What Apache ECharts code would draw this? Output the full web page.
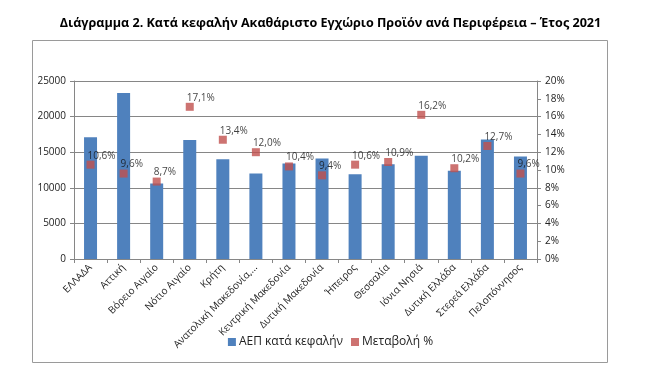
<!DOCTYPE html>
<html>
<head>
<meta charset="utf-8">
<script src="https://cdn.jsdelivr.net/npm/echarts@6/dist/echarts.min.js"></script>
<style>
html,body{margin:0;padding:0;background:#fff;}
#c{width:661px;height:392px;}
</style>
</head>
<body>
<div id="c"></div>
<script>
const categories = ['ΕΛΛΑΔΑ','Αττική','Βόρειο Αιγαίο','Νότιο Αιγαίο','Κρήτη','Ανατολική Μακεδονία,...','Κεντρική Μακεδονία','Δυτική Μακεδονία','Ήπειρος','Θεσσαλία','Ιόνια Νησιά','Δυτική Ελλάδα','Στερεά Ελλάδα','Πελοπόννησος'];
const gdpPerCapita = [17100, 23300, 10600, 16700, 14000, 12000, 13400, 14100, 11900, 13300, 14500, 12400, 16800, 14400];
const changePct = [10.6, 9.6, 8.7, 17.1, 13.4, 12.0, 10.4, 9.4, 10.6, 10.9, 16.2, 10.2, 12.7, 9.6];
const leftTicks = [0, 5000, 10000, 15000, 20000, 25000];
const rightTicks = [0, 2, 4, 6, 8, 10, 12, 14, 16, 18, 20];

const FONT = 'Open Sans';
const chart = echarts.init(document.getElementById('c'), null, {renderer: 'canvas'});
chart.setOption({
  animation: false,
  textStyle: {fontFamily: FONT},
  title: {
    text: 'Διάγραμμα 2. Κατά κεφαλήν Ακαθάριστο Εγχώριο Προϊόν ανά Περιφέρεια – Έτος 2021',
    left: 'center', top: 12,
    textStyle: {fontFamily: FONT, fontSize: 12.6, fontWeight: 'bold', color: '#000'}
  },
  graphic: [{
    type: 'rect', shape: {x: 32.5, y: 40.5, width: 575, height: 322},
    style: {fill: 'none', stroke: '#9a9a9a', lineWidth: 1}, silent: true, z: -1
  }],
  legend: {
    bottom: 39, left: 'center', itemWidth: 8, itemHeight: 8, itemGap: 8,
    icon: 'rect',
    textStyle: {fontFamily: FONT, fontSize: 12, color: '#222', padding: [0,0,0,-2]},
    data: ['ΑΕΠ κατά κεφαλήν', 'Μεταβολή %']
  },
  grid: {left: 74, right: 124, top: 81, bottom: 133},
  xAxis: {
    type: 'category', data: categories,
    axisLine: {lineStyle: {color: '#868686'}},
    axisTick: {show: true, alignWithLabel: false, length: 4, lineStyle: {color: '#868686'}},
    axisLabel: {rotate: 45, interval: 0, fontSize: 10, color: '#222', margin: 7, fontFamily: FONT}
  },
  yAxis: [{
    type: 'value', min: leftTicks[0], max: leftTicks[leftTicks.length-1], interval: 5000,
    axisLine: {show: true, lineStyle: {color: '#868686'}},
    axisTick: {show: true, length: 4, lineStyle: {color: '#868686'}},
    axisLabel: {fontSize: 10, color: '#222', margin: 8, fontFamily: FONT, formatter: v => String(v)},
    splitLine: {show: true, lineStyle: {color: '#868686'}}
  }, {
    type: 'value', min: rightTicks[0], max: rightTicks[rightTicks.length-1], interval: 2,
    position: 'right',
    axisLine: {show: true, lineStyle: {color: '#868686'}},
    axisTick: {show: true, length: 4, lineStyle: {color: '#868686'}},
    axisLabel: {fontSize: 10, color: '#222', margin: 8, fontFamily: FONT, formatter: v => v + '%'},
    splitLine: {show: false}
  }],
  series: [{
    name: 'ΑΕΠ κατά κεφαλήν', type: 'bar', data: gdpPerCapita, yAxisIndex: 0,
    barWidth: 13, itemStyle: {color: '#4F81BD'}
  }, {
    name: 'Μεταβολή %', type: 'scatter', data: changePct, yAxisIndex: 1,
    symbol: 'rect', symbolSize: 8, itemStyle: {color: '#C0504D'},
    label: {
      show: true, position: 'right', offset: [-12, -9],
      fontSize: 10, color: '#111', fontFamily: FONT,
      formatter: p => p.value.toFixed(1).replace('.', ',') + '%'
    }
  }]
});
</script>
</body>
</html>
